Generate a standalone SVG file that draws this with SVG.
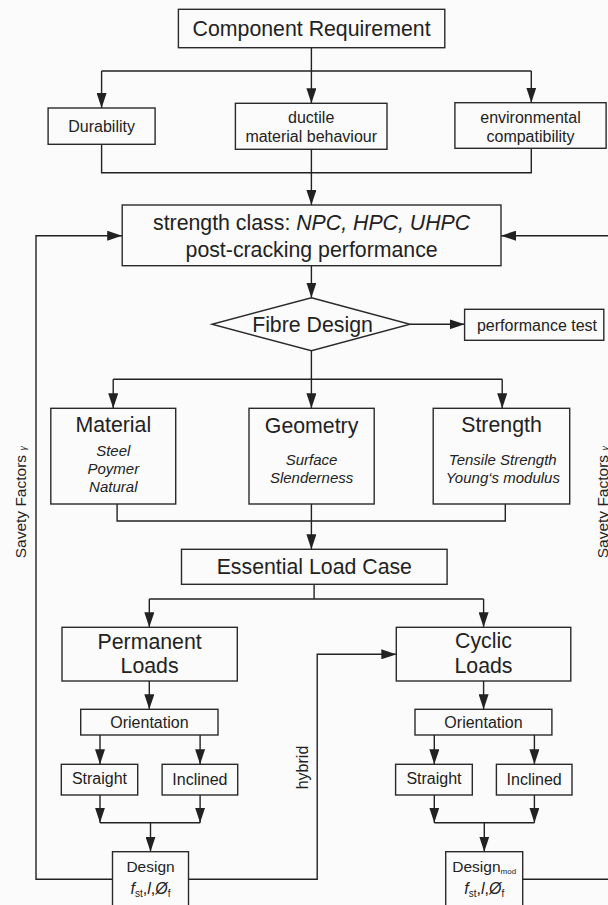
<svg xmlns="http://www.w3.org/2000/svg" width="608" height="905" viewBox="0 0 608 905">
<defs>
<marker id="ah" markerUnits="userSpaceOnUse" markerWidth="15" markerHeight="10" refX="15" refY="5" orient="auto">
<path d="M0,0 L15,5 L0,10 z" fill="#222"/>
</marker>
<style>
.box{fill:none;stroke:#2a2a2a;stroke-width:1.4}
.ln{fill:none;stroke:#222;stroke-width:1.4}
.ar{fill:none;stroke:#222;stroke-width:1.4;marker-end:url(#ah)}
text{font-family:"Liberation Sans",Arial,sans-serif;fill:#222;text-anchor:middle}
.big{font-size:21.3px}
.med{font-size:16px}
.it{font-size:15px;font-style:italic}
.side{font-size:15.5px;text-anchor:start}
</style>
</defs>
<rect x="0" y="0" width="608" height="905" fill="#fbfbfb"/>

<g id="connectors">
<path class="ln" d="M311.4 47.7 V71 M101.6 71 H531.3"/>
<path class="ar" d="M101.6 71 V108"/>
<path class="ar" d="M311.4 71 V103.3"/>
<path class="ar" d="M531.3 71 V102.7"/>
<path class="ln" d="M101.6 144.3 V172.7 H531.3 V148.3"/>
<path class="ar" d="M311.4 149.3 V205"/>
<path class="ar" d="M112.5 879.3 H36 V235.7 H122.2"/>
<path class="ar" d="M608 235.7 H501"/>
<path class="ln" d="M522.7 879.3 H608"/>
<path class="ar" d="M311.4 265.7 V297.7"/>
<path class="ar" d="M410 324.3 H464.6"/>
<path class="ln" d="M311.4 350.7 V379.3 M113.2 379.3 H502.2"/>
<path class="ar" d="M113.2 379.3 V408.3"/>
<path class="ar" d="M311.4 379.3 V408.3"/>
<path class="ar" d="M502.2 379.3 V408.3"/>
<path class="ln" d="M117.1 504 V521 H505.3 V504"/>
<path class="ar" d="M311.4 504 V549.3"/>
<path class="ln" d="M314.1 584.3 V599 M149.3 599 H483.6"/>
<path class="ar" d="M149.3 599 V627.3"/>
<path class="ar" d="M483.6 599 V627.3"/>
<path class="ar" d="M188.5 879.3 H317.2 V654.3 H396.3"/>
<path class="ar" d="M149.3 681 V709.3"/>
<path class="ar" d="M483.6 681 V709.3"/>
<path class="ar" d="M100 735 V764.3"/>
<path class="ar" d="M200.1 735 V764.3"/>
<path class="ar" d="M434.3 735 V764.3"/>
<path class="ar" d="M534.4 735 V764.3"/>
<path class="ar" d="M100 795 V822.7"/>
<path class="ar" d="M200.1 795 V822.7"/>
<path class="ln" d="M100 822.7 H200.1"/>
<path class="ar" d="M150.5 822.7 V851.7"/>
<path class="ar" d="M434.3 795 V822.7"/>
<path class="ar" d="M534.4 795 V822.7"/>
<path class="ln" d="M434.3 822.7 H534.4"/>
<path class="ar" d="M484.3 822.7 V851.7"/>
<text class="med" transform="translate(308.3,767.5) rotate(-90)">hybrid</text>
</g>

<g id="labels-side">
<text class="side" transform="translate(26.3,558.3) rotate(-90)">Savety Factors <tspan style="font-family:'Liberation Serif',serif;font-style:italic;font-size:11px">γ</tspan></text>
<text class="side" transform="translate(607.6,558.3) rotate(-90)">Savety Factors <tspan style="font-family:'Liberation Serif',serif;font-style:italic;font-size:11px">γ</tspan></text>
</g>

<g id="component-requirement">
<rect class="box" x="178.4" y="9.3" width="266.4" height="38.4"/>
<text class="big" x="311.6" y="36">Component Requirement</text>
</g>
<g id="durability">
<rect class="box" x="48.1" y="108" width="107" height="36.3"/>
<text class="med" x="101.6" y="131.7">Durability</text>
</g>
<g id="ductile">
<rect class="box" x="235.4" y="103.3" width="151.6" height="46"/>
<text class="med" x="311.2" y="123">ductile</text>
<text class="med" x="311.2" y="141.7">material behaviour</text>
</g>
<g id="environmental">
<rect class="box" x="454.9" y="102.7" width="151.2" height="45.6"/>
<text class="med" x="530.5" y="122.7">environmental</text>
<text class="med" x="530.5" y="141.7">compatibility</text>
</g>
<g id="strength-class">
<rect class="box" x="122.2" y="205" width="378.8" height="60.7"/>
<text class="big" x="311.6" y="230">strength class: <tspan font-style="italic">NPC, HPC, UHPC</tspan></text>
<text class="big" x="311.6" y="257">post-cracking performance</text>
</g>
<g id="fibre-design">
<polygon class="box" points="311.4,297.7 410,324.3 311.4,350.7 212,324.3"/>
<text class="big" x="312.5" y="331.5">Fibre Design</text>
</g>
<g id="performance-test">
<rect class="box" x="464.6" y="309.3" width="139.2" height="31"/>
<text class="med" x="537" y="330.5">performance test</text>
</g>
<g id="material">
<rect class="box" x="50.8" y="408.3" width="124.9" height="95.7"/>
<text class="big" x="113.3" y="431.7">Material</text>
<text class="it" x="113.3" y="456">Steel</text>
<text class="it" x="113.3" y="474">Poymer</text>
<text class="it" x="113.3" y="492.3">Natural</text>
</g>
<g id="geometry">
<rect class="box" x="249" y="408.3" width="125.2" height="95.7"/>
<text class="big" x="311.6" y="432.5">Geometry</text>
<text class="it" x="311.6" y="465">Surface</text>
<text class="it" x="311.6" y="483.3">Slenderness</text>
</g>
<g id="strength">
<rect class="box" x="433.2" y="408.3" width="136.5" height="95.7"/>
<text class="big" x="501.5" y="431.7">Strength</text>
<text class="it" x="502.8" y="465">Tensile Strength</text>
<text class="it" x="502.8" y="483.3">Young‘s modulus</text>
</g>
<g id="essential-load-case">
<rect class="box" x="181.5" y="549.3" width="265.6" height="35"/>
<text class="big" x="314.3" y="574">Essential Load Case</text>
</g>
<g id="permanent-loads">
<rect class="box" x="62" y="627.3" width="175.3" height="53.7"/>
<text class="big" x="149.6" y="649">Permanent</text>
<text class="big" x="149.6" y="672.7">Loads</text>
</g>
<g id="cyclic-loads">
<rect class="box" x="396.3" y="627.3" width="174.5" height="53.7"/>
<text class="big" x="483.5" y="648">Cyclic</text>
<text class="big" x="483.5" y="672.7">Loads</text>
</g>
<g id="orientation-left">
<rect class="box" x="80.7" y="709.3" width="137.3" height="25.7"/>
<text class="med" x="149.4" y="728.3">Orientation</text>
</g>
<g id="orientation-right">
<rect class="box" x="415" y="709.3" width="136.9" height="25.7"/>
<text class="med" x="483.5" y="728.3">Orientation</text>
</g>
<g id="straight-left">
<rect class="box" x="61.3" y="764.3" width="76.4" height="30.7"/>
<text class="med" x="99.5" y="784">Straight</text>
</g>
<g id="inclined-left">
<rect class="box" x="162.1" y="764.3" width="75.6" height="30.7"/>
<text class="med" x="199.9" y="785">Inclined</text>
</g>
<g id="straight-right">
<rect class="box" x="395.6" y="764.3" width="76.7" height="30.7"/>
<text class="med" x="434" y="784">Straight</text>
</g>
<g id="inclined-right">
<rect class="box" x="496.4" y="764.3" width="75.6" height="30.7"/>
<text class="med" x="534.2" y="785">Inclined</text>
</g>
<g id="design-left">
<rect class="box" x="112.5" y="851.7" width="76" height="70"/>
<text class="med" style="font-size:15.5px" x="150.5" y="871.7">Design</text>
<text class="med" x="150.5" y="894"><tspan font-style="italic">f</tspan><tspan font-size="10" dy="3">st</tspan><tspan dy="-3">,</tspan><tspan font-style="italic">l</tspan>,<tspan font-style="italic">Ø</tspan><tspan font-size="10" dy="3">f</tspan></text>
</g>
<g id="design-right">
<rect class="box" x="445.7" y="851.7" width="77" height="70"/>
<text class="med" style="font-size:15.5px" x="484.2" y="871.7">Design<tspan font-size="8" dy="2">mod</tspan></text>
<text class="med" x="484.2" y="894"><tspan font-style="italic">f</tspan><tspan font-size="10" dy="3">st</tspan><tspan dy="-3">,</tspan><tspan font-style="italic">l</tspan>,<tspan font-style="italic">Ø</tspan><tspan font-size="10" dy="3">f</tspan></text>
</g>
</svg>
